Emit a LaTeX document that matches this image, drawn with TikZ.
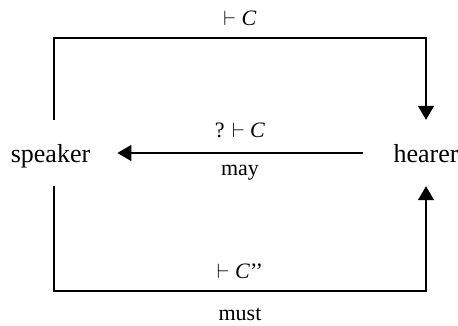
\documentclass[tikz,border=0pt]{standalone}
\usepackage{fontspec}
\setmainfont{Liberation Serif}
\usetikzlibrary{arrows.meta}
\begin{document}
\begin{tikzpicture}[x=1pt,y=-1pt,
  conn/.style={line width=1.4pt,-{Triangle[width=16pt,length=14pt]}},
  agent/.style={font=\fontsize{26}{30}\selectfont,anchor=base,text height=18pt,text depth=0pt,inner ysep=24pt},
  lbl/.style={font=\fontsize{22}{26}\selectfont,anchor=base,inner sep=0pt}]
\useasboundingbox (0,0) rectangle (458,325);
\node[agent,inner xsep=27pt] (speaker) at (50.5,162) {speaker};
\node[agent,inner xsep=30.5pt] (hearer) at (426,162) {hearer};
\coordinate (tl) at (54,38);
\coordinate (tr) at (426,38);
\coordinate (bl) at (54,291);
\coordinate (br) at (426,291);
\draw[conn] ([xshift=3.5pt]speaker.north) -- (tl) -- (tr) -- (hearer.north);
\draw[conn] ([xshift=3.5pt]speaker.south) -- (bl) -- (br) -- (hearer.south);
\draw[conn] (hearer.west) -- (speaker.east);
\node[lbl] (l1) at (240,25) {$\vdash$ \textit{C}};
\node[lbl] (l2) at (240,137) {? $\vdash$ \textit{C}};
\node[lbl] (l3) at (240,175) {may};
\node[lbl] (l4) at (240,278) {$\vdash$ \textit{C}’’};
\node[lbl] (l5) at (240,320) {must};
\end{tikzpicture}
\end{document}
